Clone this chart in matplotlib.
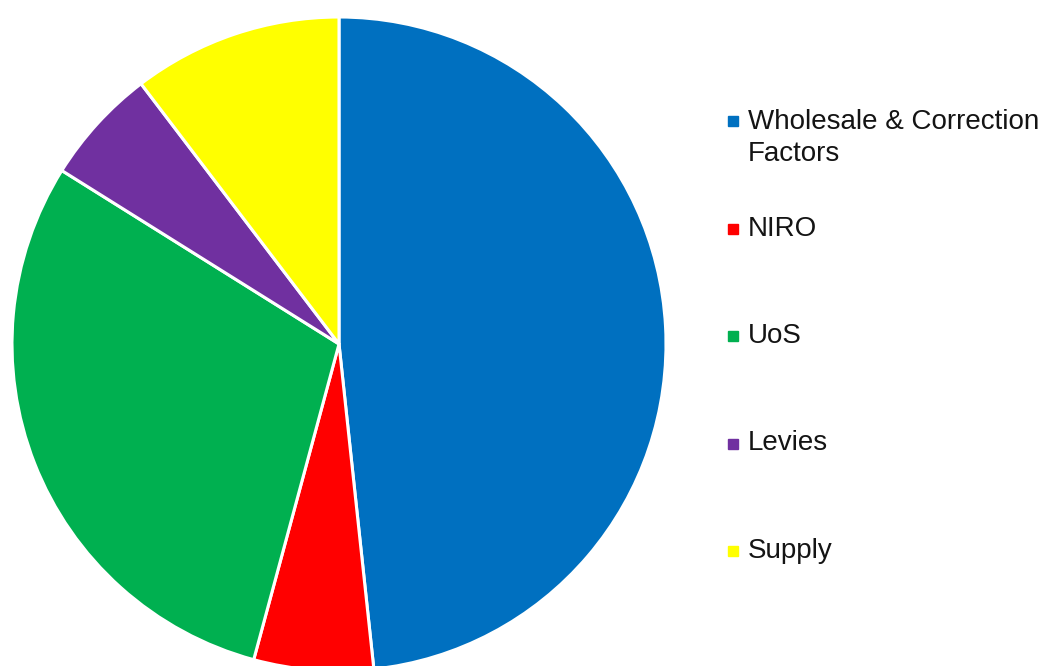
import matplotlib.pyplot as plt

plt.rcParams['font.family'] = ['Liberation Sans', 'DejaVu Sans']

labels = ["Wholesale & Correction\nFactors", "NIRO", "UoS", "Levies", "Supply"]
shares = [48.3, 5.9, 29.7, 5.75, 10.35]
colors = ["#0070C0", "#FF0000", "#00B050", "#7030A0", "#FFFF00"]

W, H = 1042, 666
fig = plt.figure(figsize=(W / 100, H / 100), dpi=100)
ax = fig.add_axes([0, 0, 1, 1])

# pie in pixel coordinates (y measured from bottom)
ax.pie(shares, colors=colors, startangle=90, counterclock=False,
       center=(339, H - 344), radius=327, frame=True,
       wedgeprops=dict(edgecolor='white', linewidth=2.2))
ax.set_xlim(0, W)
ax.set_ylim(0, H)
ax.set_aspect('equal')
ax.axis('off')

# legend drawn by hand; first-line baselines
base_y = 128
step = 107.5
line_h = 33
for i, (lab, col) in enumerate(zip(labels, colors)):
    y = base_y + step * i
    extra = lab.count('\n') * line_h   # va='baseline' uses the last line
    ax.plot([733], [H - (y - 7)], marker='s', markersize=7, color=col,
            linestyle='none')
    ax.text(748, H - y - extra, lab, fontsize=20, color='#141414',
            va='baseline', ha='left', linespacing=1.3)

fig.savefig('out.png', dpi=100)
